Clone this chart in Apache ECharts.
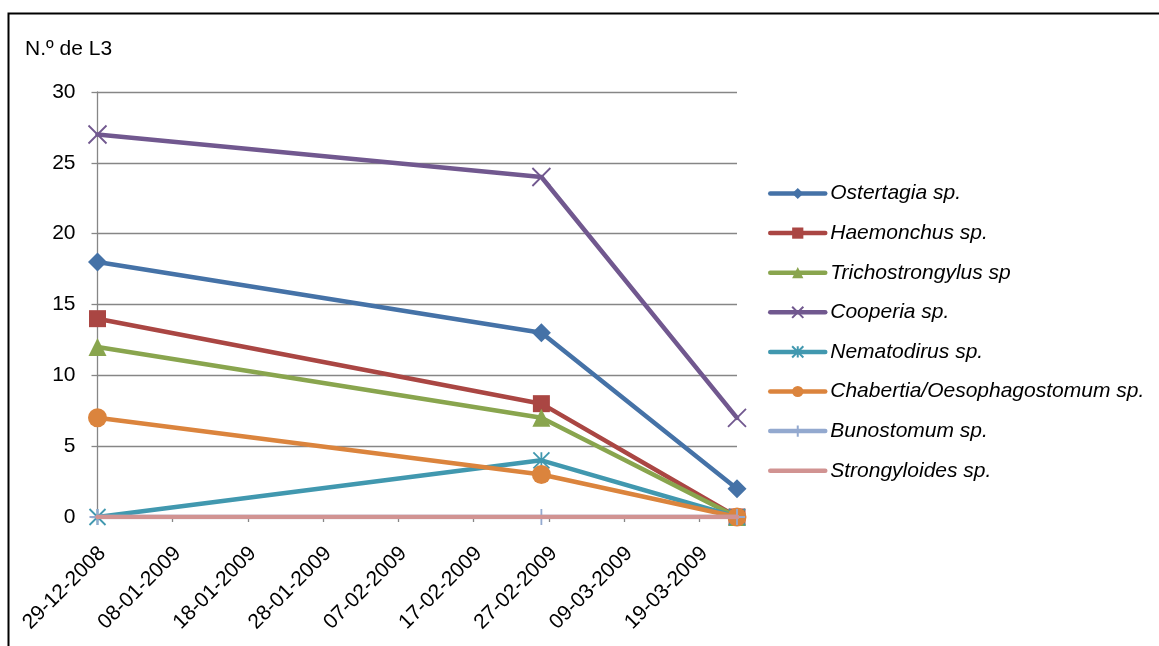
<!DOCTYPE html>
<html>
<head>
<meta charset="utf-8">
<script src="https://cdn.jsdelivr.net/npm/echarts@6/dist/echarts.min.js"></script>
<style>
  html, body { margin: 0; padding: 0; background: #fff; }
  #chart { width: 1159px; height: 646px; }
</style>
</head>
<body>
<div id="chart"></div>
<script>
// Sampling dates (dd-mm-yyyy) and L3 larvae counts per genus
const sampleDates = ['29-12-2008', '26-02-2009', '24-03-2009'];
const axisStart = '29-12-2008';
const axisEnd = '24-03-2009';
const tickStepDays = 10;
const yTicks = [0, 5, 10, 15, 20, 25, 30];

const seriesNames = [
  'Ostertagia sp.',
  'Haemonchus sp.',
  'Trichostrongylus sp',
  'Cooperia sp.',
  'Nematodirus sp.',
  'Chabertia/Oesophagostomum sp.',
  'Bunostomum sp.',
  'Strongyloides sp.'
];
const ostertagia = [18, 13, 2];
const haemonchus = [14, 8, 0];
const trichostrongylus = [12, 7, 0];
const cooperia = [27, 24, 7];
const nematodirus = [0, 4, 0];
const chabertia = [7, 3, 0];
const bunostomum = [0, 0, 0];
const strongyloides = [0, 0, 0];

const seriesValues = [ostertagia, haemonchus, trichostrongylus, cooperia,
  nematodirus, chabertia, bunostomum, strongyloides];

const colors = ['#4572A7', '#AA4643', '#89A54E', '#71588F', '#4198AF', '#DB843D', '#93A9CF', '#D19392'];

const X_PATH = 'path://M0 0L10 10M10 0L0 10';
const STAR_PATH = 'path://M5 0L5 10M0 0L10 10M10 0L0 10';
const PLUS_PATH = 'path://M5 0L5 10M0 5L10 5';

// marker per series: [symbol, size, outlined]
const markers = [
  ['diamond', 19, false],
  ['rect', 17, false],
  ['triangle', 18, false],
  [X_PATH, 18, true],
  [STAR_PATH, 16, true],
  ['circle', 19, false],
  [PLUS_PATH, 16, true],
  ['none', 0, false]
];

const DAY_MS = 86400000;
function toUTC(s) {
  const p = s.split('-').map(Number);
  return Date.UTC(p[2], p[1] - 1, p[0]);
}
const baseMs = toUTC(axisStart);
function dayOffset(s) { return Math.round((toUTC(s) - baseMs) / DAY_MS); }
function pad(n) { return (n < 10 ? '0' : '') + n; }
function offsetLabel(v) {
  const d = new Date(baseMs + v * DAY_MS);
  return pad(d.getUTCDate()) + '-' + pad(d.getUTCMonth() + 1) + '-' + d.getUTCFullYear();
}

const xMax = dayOffset(axisEnd);
const xTickValues = [];
for (let v = 0; v <= xMax; v += tickStepDays) xTickValues.push(v);
const xs = sampleDates.map(dayOffset);

const FONT = 'Liberation Sans, Arial, sans-serif';

const series = seriesNames.map((name, i) => {
  const m = markers[i];
  return {
    name: name,
    type: 'line',
    data: xs.map((x, k) => [x, seriesValues[i][k]]),
    symbol: m[0],
    symbolSize: m[1],
    lineStyle: { color: colors[i], width: 4.5, cap: 'round', join: 'round' },
    itemStyle: m[2]
      ? { color: 'transparent', borderColor: colors[i], borderWidth: 1.8 }
      : { color: colors[i], borderWidth: 0 },
    emphasis: { disabled: true },
    animation: false,
    z: 2 + i
  };
});

// legend entries; a series without markers shows only its line
const legendData = seriesNames.map((name, i) =>
  markers[i][0] === 'none'
    ? { name: name, itemStyle: { opacity: 0 } }
    : { name: name }
);

const chart = echarts.init(document.getElementById('chart'), null, { renderer: 'canvas' });
chart.setOption({
  backgroundColor: '#fff',
  animation: false,
  color: colors,
  textStyle: { fontFamily: FONT },
  graphic: [
    {
      type: 'rect',
      shape: { x: 8.5, y: 13.5, width: 1200, height: 700 },
      style: { fill: 'none', stroke: '#000', lineWidth: 2 },
      silent: true,
      z: 100
    },
    {
      type: 'text',
      left: 25,
      top: 39,
      style: { text: 'N.º de L3', font: '21px ' + FONT, fill: '#000' },
      silent: true
    }
  ],
  grid: { left: 97.5, right: 1159 - 737, top: 92, bottom: 646 - 517, containLabel: false },
  legend: {
    orient: 'vertical',
    left: 763,
    top: 178,
    itemWidth: 55,
    itemHeight: 14,
    itemGap: 18.6,
    selectedMode: false,
    data: legendData,
    lineStyle: { width: 4.5, cap: 'round' },
    textStyle: { fontFamily: FONT, fontSize: 21, fontStyle: 'italic', color: '#000', lineHeight: 21 }
  },
  xAxis: {
    type: 'value',
    min: 0,
    max: xMax,
    interval: tickStepDays,
    splitLine: { show: false },
    axisLine: { show: true, onZero: false, lineStyle: { color: '#868686', width: 1.3 } },
    axisTick: { show: true, length: 5, customValues: xTickValues, lineStyle: { color: '#868686', width: 1.3 } },
    axisLabel: {
      customValues: xTickValues,
      rotate: 45,
      margin: 38,
      padding: [0, -7, 0, 0],
      fontSize: 21,
      color: '#000',
      fontFamily: FONT,
      formatter: offsetLabel
    }
  },
  yAxis: {
    type: 'value',
    min: yTicks[0],
    max: yTicks[yTicks.length - 1],
    interval: 5,
    axisLine: { show: true, lineStyle: { color: '#868686', width: 1.3 } },
    axisTick: { show: true, inside: false, length: 6, lineStyle: { color: '#868686', width: 1.3 } },
    splitLine: { show: true, lineStyle: { color: '#868686', width: 1.3 } },
    axisLabel: { fontSize: 21, color: '#000', margin: 22, fontFamily: FONT }
  },
  series: series
});
</script>
</body>
</html>
